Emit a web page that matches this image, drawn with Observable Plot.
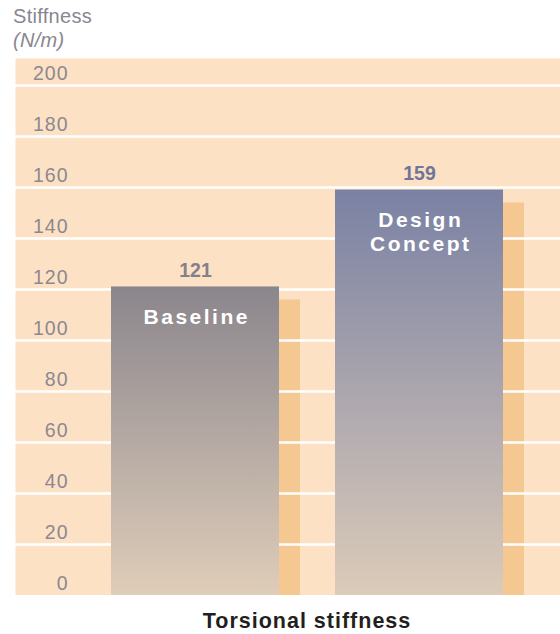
<!DOCTYPE html>
<html><head><meta charset="utf-8">
<script src="https://cdn.jsdelivr.net/npm/d3@7"></script>
<script src="https://cdn.jsdelivr.net/npm/@observablehq/plot@0.6"></script>
<style>
html,body{margin:0;padding:0;background:#fff;overflow:hidden;}
body{font-family:"Liberation Sans",Arial,Helvetica,sans-serif;width:560px;}
#head{height:58px;box-sizing:border-box;padding:4px 0 0 13px;color:#8a8690;font-size:20px;line-height:24px;letter-spacing:0.3px;}
#head .u{font-style:italic}
#chart svg{display:block}
#foot{box-sizing:border-box;height:39px;padding:14px 0 0 54px;width:560px;}
#foot div{width:506px;text-align:center;font-size:21.5px;font-weight:bold;letter-spacing:1px;line-height:24px;color:#231f20;}
</style></head><body>
<div id="head"><div>Stiffness</div><div class="u">(N/m)</div></div>
<div id="chart"></div>
<div id="foot"><div>Torsional stiffness</div></div>
<script>
// ---- data ----
const categories = ["Baseline", "Design Concept"];
const values = [121, 159];
const yTicks = [0, 20, 40, 60, 80, 100, 120, 140, 160, 180, 200];

// ---- styles ----
const barTopColors = ["#8b868d", "#7a81a3"];
const barBottomColors = ["#dfcdb9", "#dccbb9"];
const valueLabelColors = ["#85808a", "#6f7699"];
const panelColor = "#fce1c5";
const shadowColor = "#f5c892";

const data = categories.map((name, i) => ({
  name,
  value: values[i],
  fill: `url(#barGrad${i})`,
  labelColor: valueLabelColors[i]
}));

const chart = Plot.plot({
  width: 560,
  height: 537,
  marginTop: 0,
  marginBottom: 0,
  marginLeft: 15,
  marginRight: 0,
  style: {fontFamily: '"Liberation Sans", Arial, Helvetica, sans-serif', background: "transparent"},
  x: {type: "band", domain: categories, paddingInner: 0.25, paddingOuter: 0.3415, align: 0.627, axis: null},
  y: {domain: [0, 200], range: [537, 27], axis: null},
  color: {type: "identity"},
  marks: [
    Plot.frame({fill: panelColor}),
    Plot.rectY(data, {x: "name", y: "value", fill: shadowColor, dx: 21, insetTop: 13}),
    Plot.ruleY(yTicks.filter(d => d > 0), {stroke: "#ffffff", strokeWidth: 2.5}),
    Plot.text(yTicks, {y: d => d, text: d => String(d), frameAnchor: "left", dx: 53, dy: -5.5,
      textAnchor: "end", lineAnchor: "bottom", fontSize: 19.5, fill: "#8c8890"}),
    Plot.rectY(data, {x: "name", y: "value", fill: "fill"}),
    Plot.text(data, {x: "name", y: "value", text: d => String(d.value), lineAnchor: "bottom", dy: -10,
      fontSize: 19.5, fontWeight: "bold", fill: "labelColor"}),
    Plot.text(data, {x: "name", y: "value", text: d => d.name.replace(" ", "\n"), lineAnchor: "top",
      lineHeight: 1.15, dy: 20, dx: 1.25, fontSize: 21, fontWeight: "bold", fill: "#ffffff"})
  ]
});

const svg = chart.tagName.toLowerCase() === "svg" ? chart : chart.querySelector("svg");
const ns = "http://www.w3.org/2000/svg";
const defs = document.createElementNS(ns, "defs");
categories.forEach((c, i) => {
  const lg = document.createElementNS(ns, "linearGradient");
  lg.setAttribute("id", `barGrad${i}`);
  lg.setAttribute("x1", "0"); lg.setAttribute("y1", "0");
  lg.setAttribute("x2", "0"); lg.setAttribute("y2", "1");
  [[0, barTopColors[i]], [1, barBottomColors[i]]].forEach(([o, col]) => {
    const s = document.createElementNS(ns, "stop");
    s.setAttribute("offset", o);
    s.setAttribute("stop-color", col);
    lg.appendChild(s);
  });
  defs.appendChild(lg);
});
svg.insertBefore(defs, svg.firstChild);

// letter spacing for tick labels and bar names
const tickStrings = new Set(yTicks.map(String));
const nameStrings = new Set(categories.map(c => c.replace(" ", "")));
svg.querySelectorAll("text").forEach(t => {
  const s = t.textContent.trim();
  if (tickStrings.has(s)) t.style.letterSpacing = "1px";
  else if (nameStrings.has(s)) t.style.letterSpacing = "2.5px";
});
document.getElementById("chart").appendChild(chart);
</script>
</body></html>
